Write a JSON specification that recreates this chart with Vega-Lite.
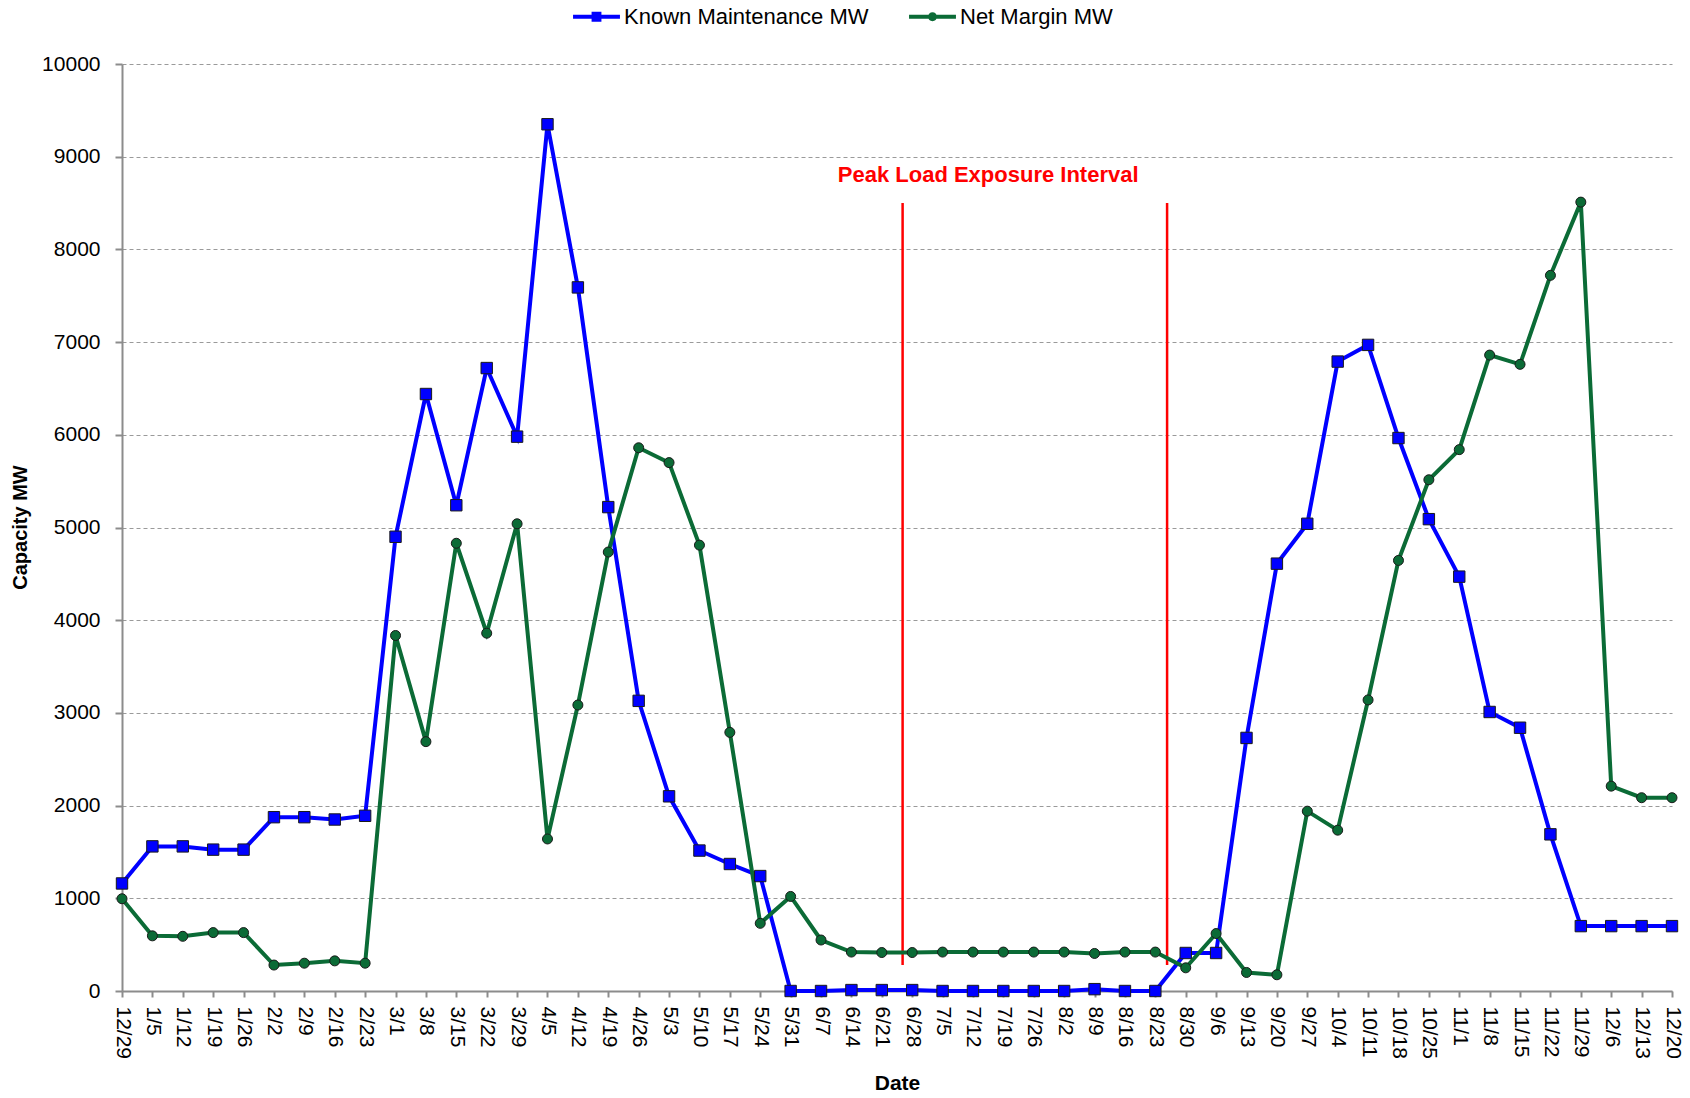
{
  "$schema": "https://vega.github.io/schema/vega-lite/v6.json",
  "width": 1550,
  "height": 927,
  "autosize": {"type": "none"},
  "padding": {"left": 122, "top": 64, "right": 18, "bottom": 107},
  "background": "white",
  "config": {
    "font": "Liberation Sans",
    "view": {"stroke": null},
    "axis": {
      "labelFont": "Liberation Sans", "labelFontSize": 21, "labelColor": "#000000",
      "titleFont": "Liberation Sans", "titleFontSize": 21, "titleFontWeight": "bold", "titleColor": "#000000",
      "domainColor": "#8c8c8c", "domainWidth": 2, "tickColor": "#8c8c8c", "tickWidth": 2
    }
  },
  "resolve": {"scale": {"shape": "independent", "fill": "independent"}, "legend": {"shape": "independent", "fill": "independent"}},
  "datasets": {
    "weekly": [
      {"date": "2011-12-29", "Known Maintenance MW": 1160, "Net Margin MW": 995},
      {"date": "2012-01-05", "Known Maintenance MW": 1560, "Net Margin MW": 595},
      {"date": "2012-01-12", "Known Maintenance MW": 1560, "Net Margin MW": 590},
      {"date": "2012-01-19", "Known Maintenance MW": 1525, "Net Margin MW": 630},
      {"date": "2012-01-26", "Known Maintenance MW": 1525, "Net Margin MW": 630},
      {"date": "2012-02-02", "Known Maintenance MW": 1875, "Net Margin MW": 280},
      {"date": "2012-02-09", "Known Maintenance MW": 1875, "Net Margin MW": 300},
      {"date": "2012-02-16", "Known Maintenance MW": 1850, "Net Margin MW": 325},
      {"date": "2012-02-23", "Known Maintenance MW": 1890, "Net Margin MW": 300},
      {"date": "2012-03-01", "Known Maintenance MW": 4900, "Net Margin MW": 3835},
      {"date": "2012-03-08", "Known Maintenance MW": 6440, "Net Margin MW": 2690},
      {"date": "2012-03-15", "Known Maintenance MW": 5240, "Net Margin MW": 4830},
      {"date": "2012-03-22", "Known Maintenance MW": 6720, "Net Margin MW": 3860},
      {"date": "2012-03-29", "Known Maintenance MW": 5980, "Net Margin MW": 5040},
      {"date": "2012-04-05", "Known Maintenance MW": 9350, "Net Margin MW": 1640},
      {"date": "2012-04-12", "Known Maintenance MW": 7590, "Net Margin MW": 3085},
      {"date": "2012-04-19", "Known Maintenance MW": 5220, "Net Margin MW": 4735},
      {"date": "2012-04-26", "Known Maintenance MW": 3130, "Net Margin MW": 5860},
      {"date": "2012-05-03", "Known Maintenance MW": 2100, "Net Margin MW": 5700},
      {"date": "2012-05-10", "Known Maintenance MW": 1515, "Net Margin MW": 4810},
      {"date": "2012-05-17", "Known Maintenance MW": 1370, "Net Margin MW": 2790},
      {"date": "2012-05-24", "Known Maintenance MW": 1240, "Net Margin MW": 730},
      {"date": "2012-05-31", "Known Maintenance MW": 0, "Net Margin MW": 1020},
      {"date": "2012-06-07", "Known Maintenance MW": 0, "Net Margin MW": 550},
      {"date": "2012-06-14", "Known Maintenance MW": 10, "Net Margin MW": 420},
      {"date": "2012-06-21", "Known Maintenance MW": 10, "Net Margin MW": 415},
      {"date": "2012-06-28", "Known Maintenance MW": 10, "Net Margin MW": 415},
      {"date": "2012-07-05", "Known Maintenance MW": 0, "Net Margin MW": 420},
      {"date": "2012-07-12", "Known Maintenance MW": 0, "Net Margin MW": 420},
      {"date": "2012-07-19", "Known Maintenance MW": 0, "Net Margin MW": 420},
      {"date": "2012-07-26", "Known Maintenance MW": 0, "Net Margin MW": 420},
      {"date": "2012-08-02", "Known Maintenance MW": 0, "Net Margin MW": 420},
      {"date": "2012-08-09", "Known Maintenance MW": 20, "Net Margin MW": 405},
      {"date": "2012-08-16", "Known Maintenance MW": 0, "Net Margin MW": 420},
      {"date": "2012-08-23", "Known Maintenance MW": 0, "Net Margin MW": 420},
      {"date": "2012-08-30", "Known Maintenance MW": 410, "Net Margin MW": 250},
      {"date": "2012-09-06", "Known Maintenance MW": 410, "Net Margin MW": 620},
      {"date": "2012-09-13", "Known Maintenance MW": 2730, "Net Margin MW": 200},
      {"date": "2012-09-20", "Known Maintenance MW": 4610, "Net Margin MW": 175},
      {"date": "2012-09-27", "Known Maintenance MW": 5040, "Net Margin MW": 1940},
      {"date": "2012-10-04", "Known Maintenance MW": 6790, "Net Margin MW": 1735},
      {"date": "2012-10-11", "Known Maintenance MW": 6970, "Net Margin MW": 3140},
      {"date": "2012-10-18", "Known Maintenance MW": 5965, "Net Margin MW": 4645},
      {"date": "2012-10-25", "Known Maintenance MW": 5090, "Net Margin MW": 5515},
      {"date": "2012-11-01", "Known Maintenance MW": 4470, "Net Margin MW": 5840},
      {"date": "2012-11-08", "Known Maintenance MW": 3010, "Net Margin MW": 6860},
      {"date": "2012-11-15", "Known Maintenance MW": 2840, "Net Margin MW": 6760},
      {"date": "2012-11-22", "Known Maintenance MW": 1690, "Net Margin MW": 7720},
      {"date": "2012-11-29", "Known Maintenance MW": 700, "Net Margin MW": 8510},
      {"date": "2012-12-06", "Known Maintenance MW": 700, "Net Margin MW": 2210},
      {"date": "2012-12-13", "Known Maintenance MW": 700, "Net Margin MW": 2085},
      {"date": "2012-12-20", "Known Maintenance MW": 700, "Net Margin MW": 2085}
    ],
    "interval": [
      {"date": "2012-06-25T19:00:00Z", "value": 280, "top": 8500},
      {"date": "2012-08-25T17:00:00Z", "value": 280, "top": 8500}
    ],
    "note": [
      {"date": "2012-07-15T12:00:00Z", "value": 8800, "label": "Peak Load Exposure Interval"}
    ]
  },
  "encoding": {
    "x": {
      "field": "date", "type": "temporal",
      "scale": {"type": "utc", "domain": [{"year": 2011, "month": 12, "date": 29, "utc": true}, {"year": 2012, "month": 12, "date": 20, "utc": true}]},
      "axis": {
        "title": "Date", "titleY": 92, "titleBaseline": "middle",
        "format": "%-m/%-d", "labelAngle": 90, "labelAlign": "left", "labelBaseline": "middle",
        "labelFlush": false, "labelOverlap": false, "tickSize": 6, "labelPadding": 9, "grid": false,
        "values": [
          {"year": 2011, "month": 12, "date": 29, "utc": true},
          {"year": 2012, "month": 1, "date": 5, "utc": true},
          {"year": 2012, "month": 1, "date": 12, "utc": true},
          {"year": 2012, "month": 1, "date": 19, "utc": true},
          {"year": 2012, "month": 1, "date": 26, "utc": true},
          {"year": 2012, "month": 2, "date": 2, "utc": true},
          {"year": 2012, "month": 2, "date": 9, "utc": true},
          {"year": 2012, "month": 2, "date": 16, "utc": true},
          {"year": 2012, "month": 2, "date": 23, "utc": true},
          {"year": 2012, "month": 3, "date": 1, "utc": true},
          {"year": 2012, "month": 3, "date": 8, "utc": true},
          {"year": 2012, "month": 3, "date": 15, "utc": true},
          {"year": 2012, "month": 3, "date": 22, "utc": true},
          {"year": 2012, "month": 3, "date": 29, "utc": true},
          {"year": 2012, "month": 4, "date": 5, "utc": true},
          {"year": 2012, "month": 4, "date": 12, "utc": true},
          {"year": 2012, "month": 4, "date": 19, "utc": true},
          {"year": 2012, "month": 4, "date": 26, "utc": true},
          {"year": 2012, "month": 5, "date": 3, "utc": true},
          {"year": 2012, "month": 5, "date": 10, "utc": true},
          {"year": 2012, "month": 5, "date": 17, "utc": true},
          {"year": 2012, "month": 5, "date": 24, "utc": true},
          {"year": 2012, "month": 5, "date": 31, "utc": true},
          {"year": 2012, "month": 6, "date": 7, "utc": true},
          {"year": 2012, "month": 6, "date": 14, "utc": true},
          {"year": 2012, "month": 6, "date": 21, "utc": true},
          {"year": 2012, "month": 6, "date": 28, "utc": true},
          {"year": 2012, "month": 7, "date": 5, "utc": true},
          {"year": 2012, "month": 7, "date": 12, "utc": true},
          {"year": 2012, "month": 7, "date": 19, "utc": true},
          {"year": 2012, "month": 7, "date": 26, "utc": true},
          {"year": 2012, "month": 8, "date": 2, "utc": true},
          {"year": 2012, "month": 8, "date": 9, "utc": true},
          {"year": 2012, "month": 8, "date": 16, "utc": true},
          {"year": 2012, "month": 8, "date": 23, "utc": true},
          {"year": 2012, "month": 8, "date": 30, "utc": true},
          {"year": 2012, "month": 9, "date": 6, "utc": true},
          {"year": 2012, "month": 9, "date": 13, "utc": true},
          {"year": 2012, "month": 9, "date": 20, "utc": true},
          {"year": 2012, "month": 9, "date": 27, "utc": true},
          {"year": 2012, "month": 10, "date": 4, "utc": true},
          {"year": 2012, "month": 10, "date": 11, "utc": true},
          {"year": 2012, "month": 10, "date": 18, "utc": true},
          {"year": 2012, "month": 10, "date": 25, "utc": true},
          {"year": 2012, "month": 11, "date": 1, "utc": true},
          {"year": 2012, "month": 11, "date": 8, "utc": true},
          {"year": 2012, "month": 11, "date": 15, "utc": true},
          {"year": 2012, "month": 11, "date": 22, "utc": true},
          {"year": 2012, "month": 11, "date": 29, "utc": true},
          {"year": 2012, "month": 12, "date": 6, "utc": true},
          {"year": 2012, "month": 12, "date": 13, "utc": true},
          {"year": 2012, "month": 12, "date": 20, "utc": true}
        ]
      }
    },
    "y": {
      "field": "value", "type": "quantitative",
      "scale": {"domain": [0, 10000], "nice": false, "zero": true},
      "axis": {
        "title": "Capacity MW", "titleFontSize": 20, "titleX": -102, "titleY": 463, "titleBaseline": "middle", "titleAlign": "center",
        "format": "d",
        "values": [0, 1000, 2000, 3000, 4000, 5000, 6000, 7000, 8000, 9000, 10000],
        "grid": true, "gridDash": [4, 3], "gridColor": "#9a9a9a", "gridWidth": 1,
        "tickSize": 7, "labelPadding": 15
      }
    }
  },
  "layer": [
    {
      "data": {"name": "interval"},
      "mark": {"type": "rule", "color": "#FF0000", "strokeWidth": 2.5},
      "encoding": {"y2": {"field": "top"}}
    },
    {
      "data": {"name": "weekly"},
      "transform": [{"fold": ["Known Maintenance MW", "Net Margin MW"], "as": ["series", "value"]}],
      "mark": {"type": "line", "strokeWidth": 4},
      "encoding": {
        "color": {
          "field": "series", "type": "nominal",
          "scale": {"domain": ["Known Maintenance MW", "Net Margin MW"], "range": ["#0000FF", "#0B6B36"]},
          "legend": null
        }
      }
    },
    {
      "data": {"name": "weekly"},
      "transform": [{"fold": ["Known Maintenance MW", "Net Margin MW"], "as": ["series", "value"]}],
      "mark": {"type": "point", "filled": true, "stroke": "#1a1a1a", "strokeWidth": 1, "opacity": 1},
      "encoding": {
        "shape": {"field": "series", "type": "nominal", "scale": {"domain": ["Known Maintenance MW", "Net Margin MW"], "range": ["square", "circle"]}, "legend": null},
        "color": {"field": "series", "type": "nominal", "legend": null},
        "size": {"field": "series", "type": "nominal", "scale": {"domain": ["Known Maintenance MW", "Net Margin MW"], "range": [130, 100]}, "legend": null}
      }
    },
    {
      "data": {"name": "weekly"},
      "transform": [
        {"fold": ["Known Maintenance MW", "Net Margin MW"], "as": ["series", "value"]},
        {"filter": "false"}
      ],
      "mark": {"type": "point", "filled": true, "size": 2200, "strokeWidth": 0, "opacity": 1},
      "encoding": {
        "shape": {
          "field": "series", "type": "nominal",
          "scale": {"domain": ["Known Maintenance MW", "Net Margin MW"], "range": ["M-1,-0.085H1V0.085H-1Z M-0.21,-0.21H0.21V0.21H-0.21Z", "M-1,-0.085H1V0.085H-1Z M-0.19,0A0.19,0.19 0 1,1 0.19,0A0.19,0.19 0 1,1 -0.19,0Z"]},
          "legend": {
            "orient": "none", "legendX": 451, "legendY": -71, "direction": "horizontal", "columns": 2,
            "title": null, "padding": 0, "columnPadding": 40, "labelOffset": 4, "labelLimit": 500,
            "labelFont": "Liberation Sans", "labelFontSize": 22, "labelColor": "#000000",
            "symbolSize": 2200, "symbolStrokeWidth": 0, "symbolOpacity": 1
          }
        },
        "fill": {
          "field": "series", "type": "nominal",
          "scale": {"domain": ["Known Maintenance MW", "Net Margin MW"], "range": ["#0000FF", "#0B6B36"]},
          "legend": {
            "orient": "none", "legendX": 451, "legendY": -71, "direction": "horizontal", "columns": 2,
            "title": null, "padding": 0, "columnPadding": 40, "labelOffset": 4, "labelLimit": 500,
            "labelFont": "Liberation Sans", "labelFontSize": 22, "labelColor": "#000000",
            "symbolSize": 2200, "symbolStrokeWidth": 0, "symbolOpacity": 1
          }
        }
      }
    },
    {
      "data": {"name": "note"},
      "mark": {"type": "text", "font": "Liberation Sans", "fontSize": 22, "fontWeight": "bold", "color": "#FF0000", "align": "center", "baseline": "middle"},
      "encoding": {"text": {"field": "label"}}
    }
  ]
}
